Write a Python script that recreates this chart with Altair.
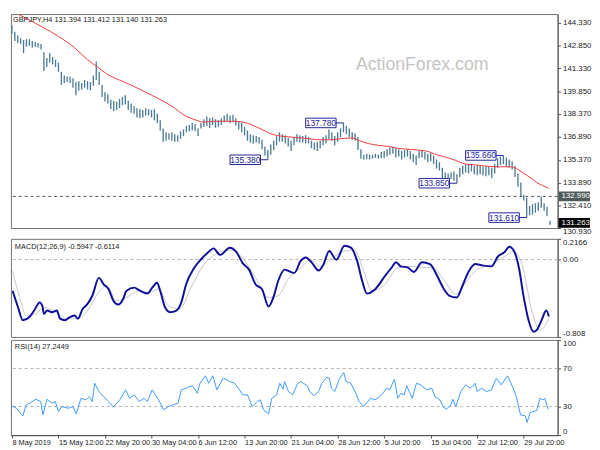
import altair as alt
import pandas as pd

# ---------------- data ----------------
bar_idx = list(range(0, 372, 2))
bar_high = [144.15,143.72,143.48,143.30,143.18,143.24,143.24,143.12,143.06,142.99,
            142.93,142.39,142.02,142.33,142.08,141.90,141.72,141.11,140.87,140.81,
            140.81,140.69,140.44,140.50,140.38,140.57,140.50,140.44,140.87,141.78,
            141.11,140.26,139.78,139.65,139.29,139.23,139.17,139.35,139.47,139.59,
            139.23,139.05,138.87,138.74,138.68,138.62,138.74,138.68,138.62,138.68,
            138.38,137.95,137.41,137.17,137.10,137.17,137.04,136.98,137.23,137.35,
            137.59,137.65,137.77,137.71,137.41,137.77,138.02,138.20,138.08,138.14,
            138.02,137.95,138.08,138.26,138.38,138.26,138.32,138.08,137.89,137.77,
            137.53,137.29,137.04,136.98,136.92,136.86,136.68,136.25,136.01,136.38,
            136.62,136.92,137.17,137.04,136.98,136.80,136.62,136.86,137.04,136.98,
            136.92,136.98,136.86,136.62,136.50,136.56,136.62,136.86,136.98,137.35,
            137.17,136.92,137.17,137.41,137.78,137.59,137.41,137.17,137.10,136.86,
            136.07,135.71,135.77,135.71,135.71,135.77,135.71,135.89,135.95,136.07,
            136.19,136.25,136.13,136.07,135.95,136.01,136.07,135.95,135.77,135.65,
            135.95,136.01,135.89,135.77,135.83,135.65,135.40,135.22,134.86,134.55,
            134.49,134.55,134.62,134.43,134.86,134.98,135.10,135.04,135.10,134.98,
            135.04,134.98,134.92,134.98,134.92,134.86,135.10,135.47,135.59,135.66,
            135.53,135.40,135.28,134.98,134.49,133.89,133.10,132.91,132.37,132.49,
            132.55,132.61,132.98,132.55,132.31,131.41]
bar_low = [143.60,143.12,142.99,142.93,142.33,142.75,142.81,142.69,142.75,142.69,
           142.57,141.17,141.42,141.72,141.60,141.42,141.11,140.26,140.38,140.44,
           140.38,140.08,139.59,139.90,139.96,140.08,139.96,139.90,140.20,140.57,
           140.26,139.47,139.17,139.05,138.68,138.56,138.62,138.74,138.93,138.99,
           138.62,138.44,138.38,138.14,138.08,138.14,138.26,138.26,138.14,137.95,
           137.77,137.29,136.56,136.62,136.68,136.62,136.56,136.56,136.74,136.92,
           137.17,137.23,137.29,137.23,136.92,137.41,137.53,137.59,137.47,137.65,
           137.47,137.53,137.65,137.83,137.89,137.77,137.83,137.59,137.35,137.17,
           136.98,136.62,136.50,136.44,136.50,136.44,136.07,135.65,135.38,135.71,
           136.01,136.32,136.56,136.56,136.44,136.25,135.95,136.32,136.56,136.50,
           136.50,136.44,136.44,136.13,136.01,135.95,136.13,136.32,136.44,136.74,
           136.62,136.32,136.56,136.86,137.17,137.04,136.86,136.68,136.62,136.01,
           135.45,135.40,135.42,135.40,135.45,135.50,135.45,135.47,135.47,135.59,
           135.71,135.77,135.53,135.59,135.40,135.53,135.59,135.40,135.22,135.04,
           135.47,135.53,135.40,135.22,135.28,135.10,134.80,134.68,134.01,134.13,
           134.07,134.13,134.01,133.85,134.25,134.43,134.55,134.49,134.62,134.43,
           134.37,134.43,134.37,134.31,134.37,134.19,134.49,134.86,135.04,135.10,
           134.92,134.86,134.74,134.25,133.64,132.98,132.73,131.61,131.76,131.82,
           131.94,132.06,132.25,132.06,131.70,131.14]

ma_idx = [5,21,32,43,52,59,65,74,83,92,101,110,119,127,132,139,145,152,159,165,
          172,179,185,192,199,205,212,219,225,234,239,245,252,259,265,272,279,285,292,299,
          305,312,319,325,332,339,343,347,352,357,361,365,369]
ma_val = [144.83,144.03,143.42,142.69,141.90,141.42,140.99,140.57,140.20,139.78,
          139.35,138.87,138.26,137.95,137.83,137.89,137.89,137.89,137.83,137.65,
          137.35,137.04,136.92,136.86,136.80,136.74,136.68,136.68,136.74,136.80,
          136.62,136.44,136.32,136.25,136.13,136.07,136.01,135.95,135.71,135.53,
          135.34,135.10,135.04,134.98,134.92,134.92,134.92,134.80,134.49,134.19,
          133.89,133.70,133.52]

ann_idx = [176, 228, 306, 338, 354]
ann_price = [135.38, 137.78, 133.85, 135.66, 131.61]

level_price = [132.99]
tag_price = [132.99, 131.263]
tag_fill = ['#4f5b5b', '#000000']

price_ticks = [144.33, 142.85, 141.33, 139.85, 138.37, 136.89, 135.37, 133.89, 132.41, 130.93]

macd_idx = [0.5,4.2,7.5,12,15.3,19.1,20.9,22,24.2,27.5,
            30.9,33.1,36.5,39.8,43.1,45.3,48.7,52,55.3,59.8,
            63.1,66.5,69.8,73.1,76.5,78.7,84.2,87.5,93.1,96.5,
            99.8,102,105.3,108.7,113.1,116.5,119.8,125.3,129.8,134.2,
            138.7,143.1,149.8,154.2,158.7,163.1,167.5,172,176.5,179.8,
            183.1,187.5,194.2,198.7,202,206.5,210.9,214.2,218.2,223.1,
            228.7,233.1,237.5,240.9,244.2,249.8,256.5,260.9,264.2,267.5,
            272,276.5,282,287.5,292,296.5,300.9,306,309.8,314.2,
            318.7,323.1,329.8,334.2,338.7,342,345.3,348.7,352,355.3,
            358.7,360.9,364.2,367.5,369.3]
macd_val = [-0.327,-0.498,-0.634,-0.600,-0.532,-0.447,-0.481,-0.566,-0.532,-0.549,
            -0.532,-0.617,-0.634,-0.600,-0.583,-0.617,-0.514,-0.463,-0.378,-0.191,
            -0.258,-0.309,-0.429,-0.470,-0.412,-0.327,-0.293,-0.320,-0.355,-0.293,
            -0.242,-0.327,-0.498,-0.549,-0.532,-0.447,-0.258,-0.088,-0.002,0.066,
            0.117,0.049,0.124,0.083,-0.037,-0.105,-0.258,-0.309,-0.491,-0.395,
            -0.224,-0.105,-0.139,-0.012,0.022,-0.037,-0.115,-0.053,0.090,-0.002,
            0.144,0.124,-0.019,-0.224,-0.355,-0.309,-0.173,-0.088,-0.027,-0.071,
            -0.081,-0.129,-0.027,-0.047,-0.156,-0.293,-0.378,-0.395,-0.276,-0.122,
            -0.047,-0.060,-0.071,0.032,0.076,0.134,0.090,-0.088,-0.395,-0.634,
            -0.754,-0.737,-0.634,-0.532,-0.595]

sig_idx = [0.5,5.3,9.8,16.5,22,29.8,37.5,45.3,52,58.7,
           65.3,72,78.7,87.5,94.2,100.9,107.5,115.3,123.1,132,
           140.9,149.8,158.7,167.5,176.5,183.1,189.8,198.7,205.3,212,
           218.7,227.5,235.3,242,247.5,256.5,265.3,274.2,280.9,289.8,
           297.5,305.3,312,319.8,329.8,338.7,345.3,350.9,357.5,363.1,
           367.5,369.3]
sig_val = [-0.122,-0.395,-0.583,-0.566,-0.498,-0.549,-0.617,-0.617,-0.532,-0.361,
           -0.276,-0.429,-0.395,-0.327,-0.344,-0.309,-0.481,-0.514,-0.293,-0.053,
           0.066,0.100,0.014,-0.191,-0.395,-0.378,-0.207,-0.088,-0.002,-0.071,
           -0.002,0.083,0.100,-0.122,-0.327,-0.258,-0.088,-0.071,-0.081,-0.088,
           -0.224,-0.361,-0.242,-0.105,-0.053,0.032,0.083,-0.053,-0.532,-0.737,
           -0.668,-0.611]

rsi_idx = [0,3.1,7.5,9.8,14.2,16.5,19.8,21.3,24.2,27.5,
           29.8,32,34.2,38.7,42,44.2,47.5,50.9,53.1,55.3,
           56.9,59.8,63.1,66.5,69.8,74.2,78.2,80.9,84.2,87.5,
           90.9,93.1,96.5,100.9,104.2,107.5,110.9,114.2,116.5,119.8,
           122,124.2,127.5,129.3,133.1,135.3,138.2,140.9,145.3,149.8,
           153.1,156.5,158.7,162,165.3,168.7,170.9,173.1,176.5,178.7,
           182,184.2,186.5,187.5,190.2,193.1,196.5,198.7,203.1,204.9,
           207.5,210.9,213.1,216.5,218.2,219.8,222,224.9,228.2,229.8,
           233.1,236.5,238.7,242,246.5,249.8,253.1,255.3,257.5,259.8,
           263.1,265.3,267.5,269.8,271.5,275.3,278.2,280.9,285.3,288.7,
           290.9,294.2,296.5,298.7,302,303.1,305.3,308.7,312,315.3,
           318.7,319.8,323.1,326.5,329.8,333.1,336.5,340.9,344.2,346.5,
           349.8,353.1,354.2,356.5,360.9,363.1,365.3,366.5,368.7]
rsi_val = [30.7,28.2,20.2,31.8,35.3,37.7,35.3,21.3,37.7,33.5,
           35.3,24.7,30.0,28.2,30.0,22.3,38.7,37.1,40.5,35.3,
           54.5,45.8,40.5,35.3,29.3,37.1,47.6,38.7,42.3,35.3,
           38.7,35.3,47.6,37.1,26.5,30.0,31.8,33.5,47.6,49.3,
           51.1,51.8,44.0,54.5,62.3,54.5,62.3,47.6,59.8,56.3,
           54.5,47.6,42.3,42.3,30.0,35.3,37.1,26.5,22.3,38.7,
           42.3,54.5,48.2,56.3,45.8,42.3,54.5,56.3,51.8,45.8,
           41.3,45.8,54.5,60.8,59.8,49.3,45.8,58.1,65.8,56.3,
           54.5,44.0,35.3,30.0,38.7,37.1,40.5,44.0,49.3,47.6,
           58.7,38.7,44.0,42.3,51.8,38.7,54.5,52.8,47.6,49.3,
           40.5,37.1,30.0,27.2,31.8,37.7,30.0,45.8,52.8,49.3,
           54.5,45.8,49.3,45.8,47.6,59.8,52.8,62.3,51.1,42.3,
           21.3,20.2,13.2,23.7,25.8,38.7,37.1,38.7,27.2]
rsi_levels = [30, 70]

date_ticks = [0, 32, 64, 96, 128, 160, 192, 224, 256, 288, 320, 352]
date_labels = ['8 May 2019', '15 May 12:00', '22 May 20:00', '30 May 04:00', '6 Jun 12:00',
               '13 Jun 20:00', '21 Jun 04:00', '28 Jun 12:00', '5 Jul 20:00', '15 Jul 04:00',
               '22 Jul 12:00', '29 Jul 20:00']

title_main = 'GBPJPY,H4  131.394 131.412 131.140 131.263'
title_macd = 'MACD(12,26,9) -0.5947 -0.6114'
title_rsi = 'RSI(14) 27.2449'
watermark = 'ActionForex.com'

# ---------------- chart ----------------
W = 557
H_MAIN, H_MACD, H_RSI = 218, 100, 97
FONT = 'Liberation Sans'
NAVY = '#23239a'
RECT = 'M-1.6,-0.5L1.6,-0.5L1.6,0.5L-1.6,0.5Z'

xs = alt.Scale(domain=[-0.67, 375.3], nice=False, zero=False)


def X(field, axis=None):
    return alt.X(field, type='quantitative', scale=xs, axis=axis)


price_scale = alt.Scale(domain=[130.93, 144.876], nice=False, zero=False)
price_axis = alt.Axis(orient='right', values=price_ticks, format='.3f', title=None,
                      grid=False, tickSize=3, labelPadding=2, labelFlush=False,
                      labelOffset={'condition': {'test': 'datum.value < 131', 'value': 4},
                                   'value': 0})


def YP(field):
    return alt.Y(field, type='quantitative', scale=price_scale, axis=price_axis)


bars_df = pd.DataFrame({'idx': bar_idx, 'high': bar_high, 'low': bar_low})
ma_df = pd.DataFrame({'idx': ma_idx, 'val': ma_val})
ann_df = pd.DataFrame({'idx': ann_idx, 'price': ann_price})
lvl_df = pd.DataFrame({'price': level_price})
tag_df = pd.DataFrame({'price': tag_price, 'bg': tag_fill})
one = pd.DataFrame({'a': [0]})

bars = alt.Chart(bars_df).mark_rule(color='#4d7a96', strokeWidth=1.35).encode(
    x=X('idx'), y=YP('high'), y2='low')
ma = alt.Chart(ma_df).mark_line(color='#f23a3a', strokeWidth=1, interpolate='monotone').encode(
    x=X('idx'), y=YP('val'))
lvl = alt.Chart(lvl_df).mark_rule(color='#555555', strokeDash=[3, 3], strokeWidth=1).encode(
    y=YP('price'))
conn = alt.Chart(ann_df).mark_rule(color=NAVY, strokeWidth=1, xOffset=-8).encode(
    x=X('idx'), x2='idx', y=YP('price'))
box = alt.Chart(ann_df).mark_point(shape=RECT, size=376, filled=True, fill='white',
                                   stroke=NAVY, strokeWidth=1, opacity=1,
                                   fillOpacity=1, xOffset=-23).encode(
    x=X('idx'), y=YP('price'))
box_txt = alt.Chart(ann_df).mark_text(font=FONT, fontSize=8.5, color=NAVY, xOffset=-23).encode(
    x=X('idx'), y=YP('price'), text=alt.Text('price:Q', format='.3f'))
tag_box = alt.Chart(tag_df).mark_point(shape=RECT, size=400, filled=True, opacity=1,
                                       fillOpacity=1, strokeWidth=0).encode(
    x=alt.value(W + 17), y=YP('price'), color=alt.Color('bg:N', scale=None))
tag_txt = alt.Chart(tag_df).mark_text(font=FONT, fontSize=8, color='white', align='left').encode(
    x=alt.value(W + 4), y=YP('price'), text=alt.Text('price:Q', format='.3f'))
hdr = alt.Chart(one).mark_text(text=title_main, font=FONT, fontSize=7.5, color='#1a1a1a',
                               align='left').encode(x=alt.value(2), y=alt.value(6))
wm = alt.Chart(one).mark_text(text=watermark, font=FONT, fontSize=18, color='#c4c4c4').encode(
    x=alt.value(419), y=alt.value(52))

main = alt.layer(bars, ma, lvl, conn, box, box_txt, tag_box, tag_txt, hdr, wm).properties(
    width=W, height=H_MAIN)

# MACD panel
macd_scale = alt.Scale(domain=[-0.808, 0.2166], nice=False, zero=False)
macd_axis = alt.Axis(orient='right', values=[0.2166, 0, -0.808], title=None, grid=False,
                     tickSize=3, labelPadding=2, labelFlush=True,
                     labelExpr="datum.value == 0 ? '0.00' : (datum.value > 0 ? '0.2166' : '-0.808')")


def YM(field):
    return alt.Y(field, type='quantitative', scale=macd_scale, axis=macd_axis)


macd_df = pd.DataFrame({'idx': macd_idx, 'val': macd_val})
sig_df = pd.DataFrame({'idx': sig_idx, 'val': sig_val})
zero_df = pd.DataFrame({'z': [0]})

zero = alt.Chart(zero_df).mark_rule(color='#b0b0b0', strokeDash=[3, 3]).encode(y=YM('z'))
sig = alt.Chart(sig_df).mark_line(color='#c6c6c6', strokeWidth=1, interpolate='monotone').encode(
    x=X('idx'), y=YM('val'))
macd_line = alt.Chart(macd_df).mark_line(color='#10109a', strokeWidth=2, interpolate='monotone').encode(
    x=X('idx'), y=YM('val'))
macd_hdr = alt.Chart(one).mark_text(text=title_macd, font=FONT, fontSize=7.5, color='#1a1a1a',
                                    align='left').encode(x=alt.value(4), y=alt.value(8))
macd = alt.layer(zero, sig, macd_line, macd_hdr).properties(width=W, height=H_MACD)

# RSI panel
rsi_scale = alt.Scale(domain=[0, 100], nice=False, zero=False)
rsi_axis = alt.Axis(orient='right', values=[100, 70, 30, 0], title=None, grid=False,
                    tickSize=3, labelPadding=2, labelFlush=True)
date_expr = '[' + ','.join("'%s'" % s for s in date_labels) + '][round(datum.value / 32)]'
x_axis = alt.Axis(values=date_ticks, labelExpr=date_expr, labelAlign='left', labelFlush=False,
                  labelOverlap=False, labelBound=False, tickSize=3, labelPadding=1, grid=False,
                  title=None, labelFontSize=7.5)


def YR(field):
    return alt.Y(field, type='quantitative', scale=rsi_scale, axis=rsi_axis)


rsi_df = pd.DataFrame({'idx': rsi_idx, 'val': rsi_val})
rl_df = pd.DataFrame({'lvl': rsi_levels})
rlev = alt.Chart(rl_df).mark_rule(color='#b0b0b0', strokeDash=[3, 3]).encode(y=YR('lvl'))
rsi_line = alt.Chart(rsi_df).mark_line(color='#3d9bff', strokeWidth=1).encode(
    x=X('idx', x_axis), y=YR('val'))
rsi_hdr = alt.Chart(one).mark_text(text=title_rsi, font=FONT, fontSize=7.5, color='#1a1a1a',
                                   align='left').encode(x=alt.value(4), y=alt.value(7))
rsi = alt.layer(rlev, rsi_line, rsi_hdr).properties(width=W, height=H_RSI)

chart = alt.vconcat(main, macd, rsi, spacing=1).properties(padding=0).configure_view(
    stroke='#707070', strokeWidth=1
).configure_axis(
    labelFont=FONT, labelFontSize=8, labelColor='#1a1a1a',
    domainColor='#505050', tickColor='#505050'
)

chart.save('out.html', embed_options={'renderer': 'svg', 'actions': False})
